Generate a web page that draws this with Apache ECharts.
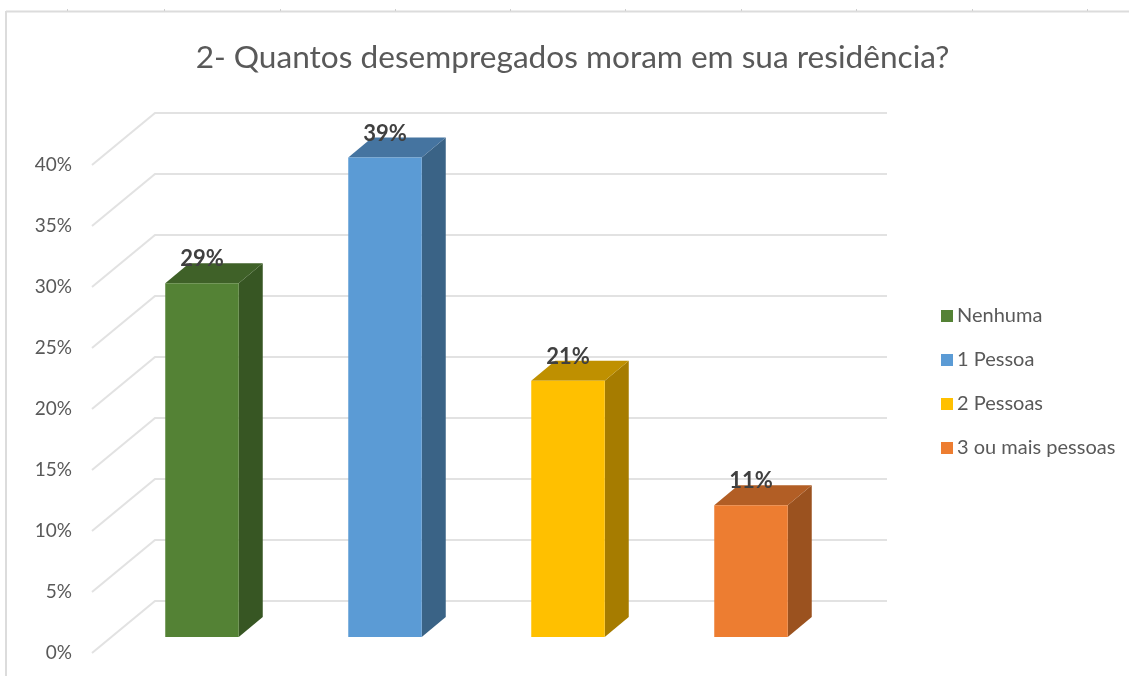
<!DOCTYPE html>
<html>
<head>
<meta charset="utf-8">
<style>
  html, body { margin: 0; padding: 0; background: #fff; }
  #chart { width: 1129px; height: 676px; }
</style>
<script src="https://cdn.jsdelivr.net/npm/echarts@6/dist/echarts.min.js"></script>
</head>
<body>
<div id="chart"></div>
<script>
const titleText = '2- Quantos desempregados moram em sua residência?'
const categories = ['Nenhuma', '1 Pessoa', '2 Pessoas', '3 ou mais pessoas']
const values = [29, 39.3, 21, 10.8]
const yTicks = [0, 5, 10, 15, 20, 25, 30, 35, 40]
const frontColors = ['#548235', '#5b9bd5', '#ffc000', '#ed7d31']
const topColors = ['#3f6128', '#4574a0', '#bf9000', '#b25e25']
const sideColors = ['#375623', '#3a6386', '#a67c00', '#9b521f']
const sheetTicks = [67, 164, 280, 395, 510, 625, 741, 856, 972, 1087]

// depth of the fake 3D floor and of the bars, in px
const wallDepth = [63, -52]
const barShift = [18.5, -16]
const barDepth = [24, -20]
const barWidth = 73.5

const renderWall = (params, api) => {
  const v = api.value(0)
  const sys = params.coordSys
  const y = api.coord([0, v])[1]
  const x0 = sys.x
  const xBack = x0 + wallDepth[0]
  const yBack = y + wallDepth[1]
  return {
    type: 'polyline',
    shape: { points: [[x0, y], [xBack, yBack], [xBack + sys.width, yBack]] },
    style: { stroke: '#e2e2e2', lineWidth: 2, fill: null }
  }
}

const renderBar = (idx) => (params, api) => {
  const base = api.coord([idx, 0])
  const top = api.coord([idx, api.value(0)])
  const xl = base[0] - barWidth / 2 + barShift[0]
  const xr = xl + barWidth
  const yb = base[1] + barShift[1]
  const yt = top[1] + barShift[1]
  const dx = barDepth[0]
  const dy = barDepth[1]
  const poly = (points, fill) => ({
    type: 'polygon',
    shape: { points },
    style: { fill, stroke: null }
  })
  return {
    type: 'group',
    children: [
      poly([[xr, yb], [xr + dx, yb + dy], [xr + dx, yt + dy], [xr, yt]], sideColors[idx]),
      poly([[xl, yt], [xl + dx, yt + dy], [xr + dx, yt + dy], [xr, yt]], topColors[idx]),
      poly([[xl, yb], [xr, yb], [xr, yt], [xl, yt]], frontColors[idx]),
      {
        type: 'text',
        z2: 10,
        style: {
          x: (xl + xr) / 2,
          y: yt - 24,
          text: Math.round(api.value(0)) + '%',
          fill: '#404040',
          font: '700 22px Lato',
          align: 'center',
          verticalAlign: 'middle'
        }
      }
    ]
  }
}

const chart = echarts.init(document.getElementById('chart'), null, { renderer: 'canvas' })

chart.setOption({
  backgroundColor: '#fff',
  animation: false,
  title: {
    text: titleText,
    left: 567.5,
    top: 37,
    textAlign: 'center',
    textStyle: { color: '#595959', fontFamily: 'Lato', fontWeight: 'normal', fontSize: 31.6 }
  },
  legend: {
    orient: 'vertical',
    left: 936,
    top: 301,
    itemWidth: 12,
    itemHeight: 12,
    itemGap: 24,
    icon: 'rect',
    data: categories,
    textStyle: { color: '#595959', fontFamily: 'Lato', fontSize: 20, padding: [0, 0, 0, -1] }
  },
  grid: { left: 92, top: 165, width: 732, height: 488 },
  xAxis: {
    type: 'category',
    data: categories,
    axisLine: { show: false },
    axisTick: { show: false },
    axisLabel: { show: false }
  },
  yAxis: {
    type: 'value',
    min: 0,
    max: 40,
    interval: 5,
    splitLine: { show: false },
    axisLine: { show: false },
    axisTick: { show: false },
    axisLabel: {
      formatter: '{value}%',
      margin: 20,
      color: '#595959',
      fontFamily: 'Lato',
      fontSize: 19
    }
  },
  series: [
    {
      type: 'custom',
      silent: true,
      renderItem: renderWall,
      encode: { y: 0 },
      data: yTicks.map(t => [t])
    },
    ...categories.map((name, i) => ({
      name,
      type: 'custom',
      renderItem: renderBar(i),
      itemStyle: { color: frontColors[i] },
      encode: { y: 0 },
      data: [[values[i]]]
    }))
  ],
  graphic: [
    { type: 'line', silent: true, shape: { x1: 6, y1: 11.5, x2: 1129, y2: 11.5 }, style: { stroke: '#dcdcdc', lineWidth: 2 } },
    { type: 'line', silent: true, shape: { x1: 6, y1: 11, x2: 6, y2: 676 }, style: { stroke: '#dcdcdc', lineWidth: 2 } },
    ...sheetTicks.map(x => ({
      type: 'line',
      silent: true,
      shape: { x1: x + 0.5, y1: 9, x2: x + 0.5, y2: 11 },
      style: { stroke: '#cfcfcf', lineWidth: 1 }
    }))
  ]
})

window.addEventListener('resize', () => chart.resize())
</script>
</body>
</html>
